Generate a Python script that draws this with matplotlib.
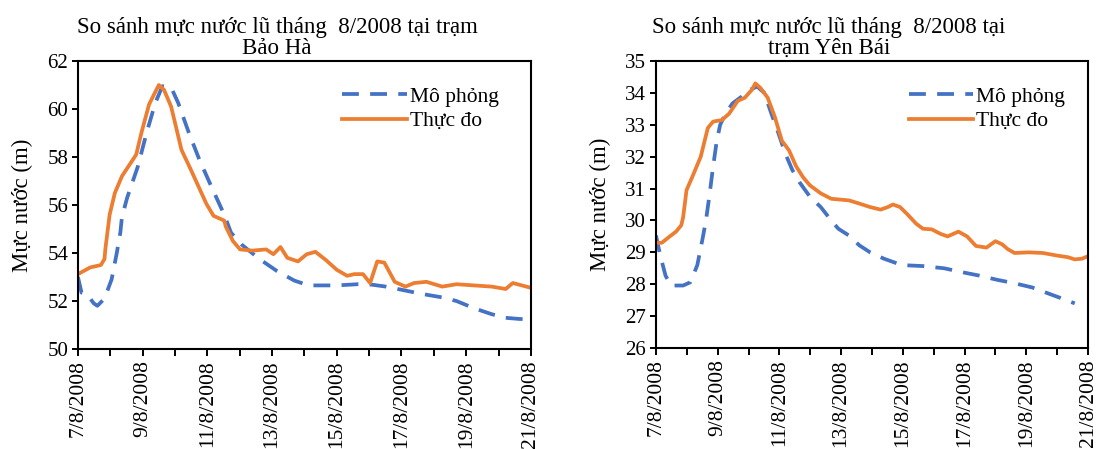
import matplotlib
matplotlib.use("Agg")
import matplotlib.pyplot as plt

plt.rcParams['font.family'] = ['Liberation Serif', 'DejaVu Serif']

# ngày tính từ 7/8/2008
date_labels = ['7/8/2008', '9/8/2008', '11/8/2008', '13/8/2008',
               '15/8/2008', '17/8/2008', '19/8/2008', '21/8/2008']

# Trạm Bảo Hà
bh_sim_day = [0.00, 0.11, 0.27, 0.49, 0.60, 0.82, 1.04, 1.20, 1.31, 1.36, 1.52,
              1.85, 2.12, 2.39, 2.61, 2.88, 3.10, 3.43, 3.75, 4.08, 4.52, 4.73,
              5.06, 5.61, 6.15, 6.69, 7.13, 8.00, 8.65, 9.09, 9.52, 10.07, 10.61,
              11.26, 11.70, 12.24, 12.79, 13.22, 13.66, 14.00]
bh_sim_level = [53.0, 52.35, 52.3, 51.9, 51.8, 52.1, 52.9, 54.0, 54.85, 55.5, 56.3,
                57.6, 59.0, 60.25, 60.95, 60.9, 60.25, 59.0, 57.9, 56.9, 55.6, 54.85,
                54.35, 53.75, 53.25, 52.85, 52.65, 52.65, 52.7, 52.68, 52.6, 52.45, 52.3,
                52.15, 52.0, 51.7, 51.45, 51.3, 51.25, 51.25]
bh_obs_day = [0.00, 0.38, 0.71, 0.82, 0.85, 0.98, 1.14, 1.36, 1.80, 1.96, 2.20,
              2.50, 2.66, 2.88, 3.20, 3.48, 3.97, 4.19, 4.52, 4.57, 4.79, 5.01,
              5.39, 5.82, 6.04, 6.26, 6.47, 6.80, 7.07, 7.34, 7.67, 8.00, 8.32,
              8.54, 8.81, 9.03, 9.25, 9.47, 9.79, 10.12, 10.39, 10.77, 11.26, 11.70,
              12.24, 12.79, 13.22, 13.44, 14.00]
bh_obs_level = [53.12, 53.4, 53.5, 53.75, 54.2, 55.6, 56.5, 57.2, 58.1, 59.0, 60.2,
                61.0, 60.8, 60.1, 58.3, 57.5, 56.05, 55.55, 55.35, 55.1, 54.5, 54.15,
                54.1, 54.15, 53.95, 54.25, 53.8, 53.65, 53.95, 54.05, 53.7, 53.3, 53.05,
                53.12, 53.12, 52.75, 53.65, 53.6, 52.8, 52.6, 52.75, 52.8, 52.6, 52.7,
                52.65, 52.6, 52.5, 52.75, 52.55]

# Trạm Yên Bái
yb_sim_day = [0.00, 0.14, 0.31, 0.48, 0.88, 1.11, 1.34, 1.51, 1.62, 1.74, 1.85,
              1.97, 2.08, 2.25, 2.48, 2.77, 3.05, 3.28, 3.51, 3.74, 3.97, 4.19,
              4.42, 4.65, 5.00, 5.34, 5.68, 5.91, 6.25, 6.59, 6.94, 7.39, 7.97,
              8.65, 9.34, 9.91, 10.48, 11.05, 11.62, 12.19, 12.77, 13.22, 13.57]
yb_sim_level = [29.53, 28.9, 28.27, 27.96, 27.96, 28.06, 28.6, 29.43, 30.0, 30.84, 31.68,
                32.5, 33.0, 33.35, 33.67, 33.88, 34.1, 34.2, 34.0, 33.35, 32.73, 32.1,
                31.58, 31.2, 30.73, 30.42, 30.0, 29.74, 29.53, 29.22, 29.0, 28.8, 28.6,
                28.57, 28.5, 28.38, 28.27, 28.14, 28.03, 27.9, 27.69, 27.53, 27.4]
yb_obs_day = [0.00, 0.19, 0.42, 0.65, 0.82, 0.88, 0.99, 1.17, 1.45, 1.68, 1.85,
              2.14, 2.37, 2.65, 2.88, 3.11, 3.22, 3.39, 3.62, 3.85, 4.08, 4.31,
              4.54, 4.77, 4.99, 5.34, 5.68, 5.91, 6.25, 6.59, 6.94, 7.28, 7.51,
              7.68, 7.91, 8.14, 8.43, 8.65, 8.94, 9.22, 9.45, 9.80, 10.08, 10.37,
              10.71, 11.00, 11.22, 11.40, 11.62, 12.08, 12.54, 12.99, 13.34, 13.57,
              13.80, 14.00]
yb_obs_level = [29.3, 29.3, 29.48, 29.65, 29.85, 30.1, 30.95, 31.35, 32.0, 32.9, 33.1,
                33.15, 33.35, 33.75, 33.85, 34.1, 34.3, 34.15, 33.85, 33.25, 32.5, 32.2,
                31.7, 31.35, 31.1, 30.85, 30.68, 30.66, 30.63, 30.53, 30.42, 30.34, 30.42,
                30.5, 30.42, 30.2, 29.9, 29.74, 29.72, 29.58, 29.5, 29.65, 29.5, 29.2,
                29.15, 29.35, 29.25, 29.1, 28.98, 29.0, 28.98, 28.9, 28.85, 28.78,
                28.8, 28.88]

BLUE = '#4472C4'
ORANGE = '#ED7D31'

fig = plt.figure(figsize=(11.01, 4.49), dpi=100)
ax1 = fig.add_axes([0.0708, 0.2227, 0.4114, 0.6414])
ax2 = fig.add_axes([0.5958, 0.2249, 0.3924, 0.6392])


def draw(ax, sim_x, sim_y, obs_x, obs_y, ylim, yticks, title, title_x):
    ax.plot(sim_x, sim_y, color=BLUE, lw=2.7, ls=(0, (4.5, 3.0)),
            dash_capstyle='butt', label='Mô phỏng')
    ax.plot(obs_x, obs_y, color=ORANGE, lw=2.7, label='Thực đo',
            solid_joinstyle='round')
    ax.set_xlim(0, 14)
    ax.set_ylim(*ylim)
    ax.set_yticks(yticks)
    ax.set_xticks(range(15))
    labels = []
    for i in range(15):
        labels.append(date_labels[i // 2] if i % 2 == 0 else '')
    ax.set_xticklabels(labels, rotation=90, fontsize=15.5)
    ax.tick_params(axis='y', labelsize=15, direction='out', length=4, width=1.4, pad=3)
    ax.tick_params(axis='x', direction='out', length=5, width=1.4, pad=3)
    for s in ax.spines.values():
        s.set_linewidth(1.5)
    ax.set_ylabel('Mực nước (m)', fontsize=16.5, labelpad=10)
    ax.text(title_x, 1.008, title, transform=ax.transAxes, ha='center', va='bottom',
            fontsize=16.5, linespacing=1.0)
    ax.legend(loc='upper left', bbox_to_anchor=(0.555, 0.955), frameon=False,
              fontsize=15.5, handlelength=3.0, handletextpad=0.15,
              labelspacing=0.2, borderaxespad=0.2)


draw(ax1, bh_sim_day, bh_sim_level, bh_obs_day, bh_obs_level, (50, 62),
     range(50, 63, 2), 'So sánh mực nước lũ tháng  8/2008 tại trạm\nBảo Hà', 0.44)
draw(ax2, yb_sim_day, yb_sim_level, yb_obs_day, yb_obs_level, (26, 35),
     range(26, 36), 'So sánh mực nước lũ tháng  8/2008 tại\ntrạm Yên Bái', 0.40)

fig.savefig('out.png', dpi=100)
